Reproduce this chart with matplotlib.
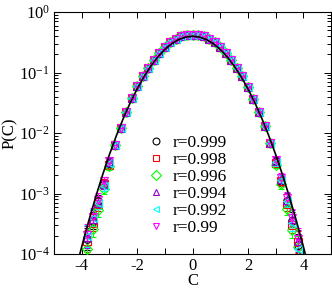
import matplotlib.pyplot as plt
from matplotlib.ticker import MultipleLocator, LogLocator, NullFormatter
import numpy as np

plt.rcParams['font.family'] = ['Liberation Serif', 'DejaVu Serif']
plt.rcParams['mathtext.fontset'] = 'custom'
plt.rcParams['mathtext.rm'] = 'Liberation Serif'
plt.rcParams['mathtext.it'] = 'Liberation Serif:italic'
plt.rcParams['axes.unicode_minus'] = False

# data grid of C values (step 0.2)
c_tail_left = [-3.8, -3.6, -3.4, -3.2, -3.0]
c_center = [-2.8, -2.6, -2.4, -2.2, -2.0, -1.8, -1.6, -1.4, -1.2, -1.0, -0.8, -0.6, -0.4, -0.2, 0.0,
            0.2, 0.4, 0.6, 0.8, 1.0, 1.2, 1.4, 1.6, 1.8, 2.0, 2.2, 2.4, 2.6, 2.8]
c_tail_right = [3.0, 3.2, 3.4, 3.6, 3.8]

# log10 P(C), shared by all r in the bulk
logp_center = [-2.20, -1.92, -1.66, -1.42, -1.23, -1.06, -0.92, -0.79, -0.68, -0.58, -0.50, -0.44, -0.40, -0.38, -0.375,
               -0.38, -0.40, -0.44, -0.50, -0.58, -0.68, -0.79, -0.92, -1.06, -1.24, -1.43, -1.65, -1.88, -2.17]

labels = ['r=0.999', 'r=0.998', 'r=0.996', 'r=0.994', 'r=0.992', 'r=0.99']
colors = ['black', '#ff0000', '#00ff00', '#9400d3', '#00ffff', '#ff00ff']
markers = ['o', 's', 'D', '^', '<', 'v']

# log10 P(C) in the tails, per r
logp_left = [
    [-3.75, -3.45, -3.13, -2.85, -2.50],
    [-3.78, -3.48, -3.18, -2.84, -2.52],
    [-3.92, -3.58, -3.28, -2.93, -2.55],
    [-3.72, -3.42, -3.15, -2.85, -2.48],
    [-3.70, -3.40, -3.15, -2.87, -2.50],
    [-3.68, -3.38, -3.10, -2.80, -2.46],
]
logp_right = [
    [-2.47, -2.80, -3.12, -3.45, -3.85],
    [-2.50, -2.80, -3.18, -3.52, -3.80],
    [-2.52, -2.85, -3.25, -3.60, -3.88],
    [-2.46, -2.76, -3.10, -3.42, -3.78],
    [-2.48, -2.78, -3.12, -3.48, -3.92],
    [-2.45, -2.74, -3.08, -3.40, -3.75],
]
# error half-width in decades for tail points (|C| = 3.8 ... 3.0)
err_left = [0.18, 0.14, 0.11, 0.08, 0.06]
err_right = [0.06, 0.08, 0.11, 0.14, 0.18]

# gaussian reference curve, log10 values
c_line = [-4.25, -4.0, -3.75, -3.5, -3.25, -3.0, -2.75, -2.5, -2.25, -2.0, -1.75, -1.5, -1.25, -1.0, -0.75, -0.5, -0.25, 0.0,
          0.25, 0.5, 0.75, 1.0, 1.25, 1.5, 1.75, 2.0, 2.25, 2.5, 2.75, 3.0, 3.25, 3.5, 3.75, 4.0, 4.25]
logp_line = [-4.321, -3.873, -3.453, -3.059, -2.693, -2.353, -2.041, -1.756, -1.498, -1.268, -1.064, -0.888, -0.738, -0.616,
             -0.521, -0.453, -0.413, -0.399,
             -0.413, -0.453, -0.521, -0.616, -0.738, -0.888, -1.064, -1.268, -1.498, -1.756, -2.041, -2.353, -2.693,
             -3.059, -3.453, -3.873, -4.321]

fig = plt.figure(figsize=(3.32, 2.88), dpi=100)
ax = fig.add_axes([0.163, 0.118, 0.834, 0.840])

for i in range(len(labels)):
    c = np.array(c_tail_left + c_center + c_tail_right)
    lp = np.array(logp_left[i] + logp_center + logp_right[i])
    e = np.array(err_left + [0.0] * len(c_center) + err_right)
    p = 10 ** lp
    yerr = [p - p * 10 ** (-e), p * 10 ** e - p]
    ax.errorbar(c, p, yerr=yerr, fmt='none', ecolor=colors[i], elinewidth=0.8, capsize=2.2, capthick=0.8, zorder=2)
    ax.plot(c, p, linestyle='none', marker=markers[i], markersize=5.5, markerfacecolor='none',
            markeredgecolor=colors[i], markeredgewidth=0.8, zorder=3, label=labels[i])

ax.plot(c_line, 10 ** np.array(logp_line), color='black', linewidth=1.2, zorder=4)

ax.set_yscale('log')
ax.set_xlim(-5, 5)
ax.set_ylim(1e-4, 1)
ax.xaxis.set_major_locator(MultipleLocator(2))
ax.xaxis.set_minor_locator(MultipleLocator(1))
ax.yaxis.set_major_locator(LogLocator(base=10))
ax.yaxis.set_minor_locator(LogLocator(base=10, subs=np.arange(2, 10)))
ax.yaxis.set_minor_formatter(NullFormatter())
ax.tick_params(which='both', direction='in', top=True, right=True, labelsize=12, width=0.7)
ax.tick_params(axis='x', which='major', length=4.5, pad=3)
ax.tick_params(axis='x', which='minor', length=4.5)
ax.tick_params(axis='y', which='major', length=5, pad=3)
ax.tick_params(axis='y', which='minor', length=2.8)
for s in ax.spines.values():
    s.set_linewidth(0.8)

ax.set_xlabel('C', fontsize=12, labelpad=-1)
ax.set_ylabel('P(C)', fontsize=12, labelpad=1)

ax.legend(loc='center left', bbox_to_anchor=(0.31, 0.285), frameon=False, fontsize=12.5,
          handlelength=0.8, handletextpad=0.6, labelspacing=0.05, borderpad=0, markerscale=0.9)

fig.savefig('out.png', dpi=100)
